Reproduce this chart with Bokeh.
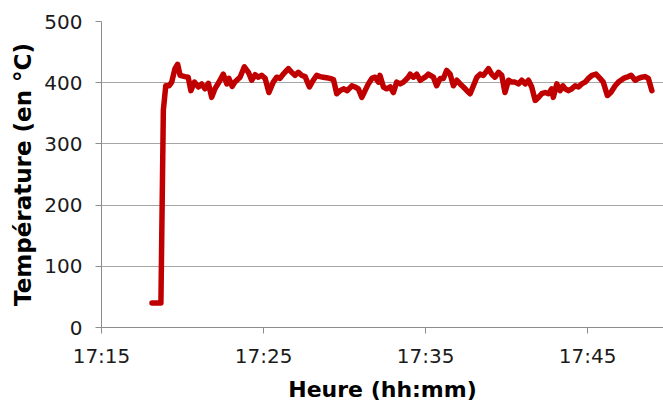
import pandas as pd
from bokeh.plotting import figure
from bokeh.models import FixedTicker, DatetimeTickFormatter, Range1d
from bokeh.embed import file_html
from bokeh.resources import INLINE

# ---- data ----
times = [
    "17:18:07", "17:18:40", "17:18:49", "17:18:58", "17:19:10", "17:19:20", "17:19:32", "17:19:42",
    "17:19:51", "17:20:09", "17:20:21", "17:20:31", "17:20:44", "17:20:59", "17:21:11", "17:21:23",
    "17:21:36", "17:21:48", "17:22:00", "17:22:19", "17:22:31", "17:22:44", "17:22:52", "17:23:04",
    "17:23:14", "17:23:33", "17:23:49", "17:24:04", "17:24:16", "17:24:29", "17:24:41", "17:24:53",
    "17:25:06", "17:25:20", "17:25:36", "17:25:49", "17:26:01", "17:26:13", "17:26:32", "17:26:44",
    "17:26:57", "17:27:09", "17:27:21", "17:27:34", "17:27:50", "17:28:04", "17:28:17", "17:28:29",
    "17:28:41", "17:28:54", "17:29:06", "17:29:19", "17:29:31", "17:29:43", "17:29:56", "17:30:10",
    "17:30:27", "17:30:39", "17:30:51", "17:31:04", "17:31:16", "17:31:28", "17:31:41", "17:31:53",
    "17:32:05", "17:32:11", "17:32:24", "17:32:36", "17:32:49", "17:33:01", "17:33:13", "17:33:26",
    "17:33:38", "17:33:56", "17:34:03", "17:34:15", "17:34:27", "17:34:40", "17:34:58", "17:35:10",
    "17:35:29", "17:35:41", "17:35:54", "17:36:06", "17:36:18", "17:36:31", "17:36:43", "17:36:56",
    "17:37:08", "17:37:20", "17:37:33", "17:37:45", "17:37:57", "17:38:10", "17:38:22", "17:38:34",
    "17:38:53", "17:39:05", "17:39:17", "17:39:30", "17:39:42", "17:39:54", "17:40:07", "17:40:19",
    "17:40:31", "17:40:44", "17:40:56", "17:41:09", "17:41:21", "17:41:33", "17:41:46", "17:41:58",
    "17:42:10", "17:42:23", "17:42:35", "17:42:47", "17:42:53", "17:43:06", "17:43:18", "17:43:28",
    "17:43:37", "17:43:49", "17:44:01", "17:44:14", "17:44:26", "17:44:38", "17:44:51", "17:45:03",
    "17:45:16", "17:45:31", "17:45:46", "17:45:58", "17:46:13", "17:46:26", "17:46:42", "17:46:54",
    "17:47:13", "17:47:25", "17:47:41", "17:47:56", "17:48:08", "17:48:21", "17:48:33", "17:48:45",
    "17:48:58",
]
temperatures = [
    40, 40, 355, 395, 395, 401, 423, 430,
    412, 410, 409, 387, 401, 393, 398, 390,
    399, 376, 390, 404, 414, 398, 407, 394,
    401, 409, 426, 417, 404, 413, 409, 412,
    407, 384, 401, 409, 407, 414, 423, 417,
    412, 417, 412, 410, 393, 404, 412, 410,
    409, 408, 407, 405, 382, 387, 390, 387,
    395, 393, 390, 376, 387, 398, 407, 409,
    401, 412, 393, 390, 393, 384, 401, 398,
    401, 409, 414, 409, 414, 404, 409, 414,
    409, 395, 407, 407, 420, 414, 395, 404,
    398, 393, 387, 382, 395, 409, 414, 412,
    423, 414, 409, 417, 412, 384, 404, 401,
    401, 398, 404, 398, 404, 393, 371, 376,
    382, 384, 382, 390, 376, 398, 387, 395,
    390, 387, 390, 395, 393, 398, 401, 407,
    412, 414, 407, 401, 379, 384, 395, 401,
    407, 409, 412, 404, 407, 409, 410, 407,
    387,
]
x_tick_labels = ["17:15", "17:25", "17:35", "17:45"]
y_ticks = [0, 100, 200, 300, 400, 500]
x_start, x_end = "17:15:00", "17:49:41"

DAY = "2024-01-01 "
xs = pd.to_datetime([DAY + t for t in times])
tick_ms = [pd.Timestamp(DAY + t + ":00").value // 10**6 for t in x_tick_labels]

p = figure(frame_width=562, frame_height=306, x_axis_type="datetime",
           output_backend="svg", toolbar_location=None,
           min_border_left=101, min_border_right=0, min_border_top=21, min_border_bottom=70)
p.x_range = Range1d(pd.Timestamp(DAY + x_start), pd.Timestamp(DAY + x_end))
p.y_range = Range1d(0, 500)
p.outline_line_color = None
p.background_fill_color = "white"
p.border_fill_color = "white"

p.line(xs, temperatures, line_color="#C00000", line_width=5.5,
       line_join="round", line_cap="round")

FONT = "DejaVu Sans"
p.xaxis.ticker = FixedTicker(ticks=tick_ms)
fmt = "%H:%M"
p.xaxis.formatter = DatetimeTickFormatter(seconds=fmt, minsec=fmt, minutes=fmt, hourmin=fmt,
                                          hours=fmt, days=fmt, months=fmt, years=fmt)
p.yaxis.ticker = FixedTicker(ticks=y_ticks)

for ax in (p.xaxis, p.yaxis):
    ax.axis_line_color = "#8C8C8C"
    ax.axis_line_width = 1
    ax.major_tick_line_color = "#8C8C8C"
    ax.major_tick_in = 0
    ax.major_tick_out = 6
    ax.minor_tick_line_color = None
    ax.major_label_text_font = FONT
    ax.major_label_text_font_size = "20px"
    ax.major_label_text_color = "#1a1a1a"
    ax.axis_label_text_font = FONT
    ax.axis_label_text_font_style = "bold"
    ax.axis_label_text_font_size = "22px"
    ax.axis_label_text_color = "#000000"

p.xaxis.axis_label = "Heure (hh:mm)"
p.yaxis.axis_label = "Température (en °C)"
p.yaxis.axis_label_text_font_size = "23px"
p.xaxis.major_label_standoff = 10
p.yaxis.major_label_standoff = 13
p.xaxis.axis_label_standoff = 6
p.yaxis.axis_label_standoff = 5

p.xgrid.grid_line_color = None
p.ygrid.grid_line_color = "#A6A6A6"
p.ygrid.grid_line_width = 1

open("out.html", "w").write(file_html(p, INLINE))
